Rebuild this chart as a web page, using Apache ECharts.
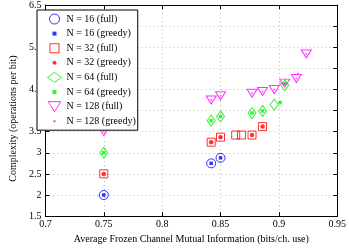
<!DOCTYPE html>
<html>
<head>
<meta charset="utf-8">
<script src="https://cdn.jsdelivr.net/npm/echarts@6/dist/echarts.min.js"></script>
<style>html,body{margin:0;padding:0;background:#fff}#c{width:349px;height:249px}</style>
</head>
<body>
<div id="c"></div>
<script>
var seriesNames = ['N = 16 (full)','N = 16 (greedy)','N = 32 (full)','N = 32 (greedy)','N = 64 (full)','N = 64 (greedy)','N = 128 (full)','N = 128 (greedy)'];
var xTicks = [0.7,0.75,0.8,0.85,0.9,0.95];
var yTicks = [1.5,2,2.5,3,3.5,4,4.5,5,5.5,6,6.5];

var x16Full = [0.75, 0.842, 0.85];
var y16Full = [2.0, 2.75, 2.88];
var x16Greedy = [0.75, 0.842, 0.85];
var y16Greedy = [2.0, 2.75, 2.88];

var x32Full = [0.75, 0.842, 0.85, 0.863, 0.868, 0.877, 0.886];
var y32Full = [2.5, 3.25, 3.37, 3.42, 3.42, 3.42, 3.62];
var x32Greedy = [0.75, 0.842, 0.85, 0.877, 0.886];
var y32Greedy = [2.5, 3.25, 3.37, 3.42, 3.62];

var x64Full = [0.75, 0.842, 0.85, 0.877, 0.886, 0.896, 0.905];
var y64Full = [3.0, 3.76, 3.86, 3.94, 3.99, 4.14, 4.6];
var x64Greedy = [0.75, 0.842, 0.85, 0.877, 0.886, 0.901, 0.905];
var y64Greedy = [3.0, 3.76, 3.86, 3.94, 3.99, 4.19, 4.63];

var x128Full = [0.75, 0.842, 0.85, 0.877, 0.886, 0.896, 0.905, 0.915, 0.9235];
var y128Full = [3.5, 4.25, 4.35, 4.41, 4.45, 4.5, 4.65, 4.76, 5.34];
var x128Greedy = [0.75, 0.842, 0.85, 0.877, 0.886, 0.896, 0.901, 0.905, 0.915, 0.9165, 0.9235];
var y128Greedy = [3.5, 4.25, 4.35, 4.41, 4.45, 4.5, 4.64, 4.65, 4.76, 4.88, 5.34];

function pts(xs, ys){ return xs.map(function(x,i){ return [x, ys[i]]; }); }

var BLUE='#0000ff', RED='#ff0000', GREEN='#00f000', MAG='#ff00ff';
var FONT = '"Liberation Serif", "DejaVu Serif", serif';
var smallSq = 'path://M0,0 M10,10 M3,3 L7,3 L7,7 L3,7 Z';
var smallDot = 'path://M0,0 M10,10 M3,5 A2,2 0 1 1 7,5 A2,2 0 1 1 3,5 Z';
var tinyDot = 'path://M0,0 M10,10 M4,4 L6,4 L6,6 L4,6 Z';
var downTri = 'path://M0,0 L10,0 L5,8 Z';

var open = function(c){ return {color:'rgba(0,0,0,0)', borderColor:c, borderWidth:1}; };

var chart = echarts.init(document.getElementById('c'), null, {renderer:'canvas'});
chart.setOption({
  animation:false,
  backgroundColor:'#fff',
  textStyle:{fontFamily:FONT},
  grid:{left:32, right:9, top:5, bottom:25, containLabel:false},
  xAxis:[{
    type:'value', min:0.7, max:0.95, interval:0.05,
    name:'Average Frozen Channel Mutual Information (bits/ch. use)',
    nameLocation:'middle', nameGap:14,
    nameTextStyle:{fontFamily:FONT, fontSize:10, color:'#000'},
    axisLine:{onZero:false, lineStyle:{color:'#000', width:1}},
    axisTick:{inside:true, length:4, lineStyle:{color:'#000'}},
    axisLabel:{fontFamily:FONT, fontSize:10, color:'#000', margin:3,
      formatter:function(v){ var s = xTicks.filter(function(t){return Math.abs(t-v)<1e-9;}); return s.length? String(s[0]) : ''; }},
    splitLine:{show:true, lineStyle:{color:'#bdbdbd', type:[1,3], width:1}}
  },{
    type:'value', min:0.7, max:0.95, interval:0.05, position:'top',
    axisLine:{onZero:false, lineStyle:{color:'#000', width:1}},
    axisTick:{inside:true, length:4, lineStyle:{color:'#000'}},
    axisLabel:{show:false}, splitLine:{show:false}
  }],
  yAxis:[{
    type:'value', min:1.5, max:6.5, interval:0.5,
    name:'Complexity (operations per bit)',
    nameLocation:'middle', nameGap:26,
    nameTextStyle:{fontFamily:FONT, fontSize:10, color:'#000', padding:[0,16,0,0]},
    axisLine:{onZero:false, lineStyle:{color:'#000', width:1}},
    axisTick:{inside:true, length:4, lineStyle:{color:'#000'}},
    axisLabel:{fontFamily:FONT, fontSize:10, color:'#000', margin:4,
      formatter:function(v){ var s = yTicks.filter(function(t){return Math.abs(t-v)<1e-9;}); return s.length? String(s[0]) : ''; }},
    splitLine:{show:true, lineStyle:{color:'#bdbdbd', type:[1,3], width:1}}
  },{
    type:'value', min:1.5, max:6.5, interval:0.5, position:'right',
    axisLine:{onZero:false, lineStyle:{color:'#000', width:1}},
    axisTick:{inside:true, length:4, lineStyle:{color:'#000'}},
    axisLabel:{show:false}, splitLine:{show:false}
  }],
  legend:{
    orient:'vertical', left:37, top:10,
    backgroundColor:'#fff', borderColor:'#000', borderWidth:1,
    padding:[3,2,3,10], itemGap:2.6,
    itemWidth:14, itemHeight:10,
    textStyle:{fontFamily:FONT, fontSize:10, color:'#000', lineHeight:12},
    data:[
      {name:seriesNames[0], icon:'circle', itemStyle:open(BLUE)},
      {name:seriesNames[1], icon:smallSq, itemStyle:{color:BLUE, borderWidth:0}},
      {name:seriesNames[2], icon:'path://M0,0 L10,0 L10,10 L0,10 Z M1,1 L1,9 L9,9 L9,1 Z', itemStyle:{color:RED, borderWidth:0}},
      {name:seriesNames[3], icon:smallDot, itemStyle:{color:RED, borderWidth:0}},
      {name:seriesNames[4], icon:'diamond', itemStyle:open(GREEN)},
      {name:seriesNames[5], icon:smallSq, itemStyle:{color:GREEN, borderWidth:0}},
      {name:seriesNames[6], icon:downTri, itemStyle:open(MAG)},
      {name:seriesNames[7], icon:tinyDot, itemStyle:{color:MAG, borderWidth:0}}
    ]
  },
  series:[
    {name:seriesNames[0], type:'scatter', symbol:'circle', symbolSize:9, data:pts(x16Full,y16Full), itemStyle:open(BLUE)},
    {name:seriesNames[1], type:'scatter', symbol:'rect', symbolSize:3.5, data:pts(x16Greedy,y16Greedy), itemStyle:{color:BLUE}},
    {name:seriesNames[2], type:'scatter', symbol:'rect', symbolSize:8, data:pts(x32Full,y32Full), itemStyle:open(RED)},
    {name:seriesNames[3], type:'scatter', symbol:'circle', symbolSize:4.5, data:pts(x32Greedy,y32Greedy), itemStyle:{color:RED}},
    {name:seriesNames[4], type:'scatter', symbol:'diamond', symbolSize:[8,11], data:pts(x64Full,y64Full), itemStyle:open(GREEN)},
    {name:seriesNames[5], type:'scatter', symbol:'rect', symbolSize:3.5, data:pts(x64Greedy,y64Greedy), itemStyle:{color:GREEN}},
    {name:seriesNames[6], type:'scatter', symbol:'triangle', symbolRotate:180, symbolSize:[10,8], data:pts(x128Full,y128Full), itemStyle:open(MAG)},
    {name:seriesNames[7], type:'scatter', symbol:'rect', symbolSize:1.5, data:pts(x128Greedy,y128Greedy), itemStyle:{color:MAG}}
  ]
});
</script>
</body>
</html>
